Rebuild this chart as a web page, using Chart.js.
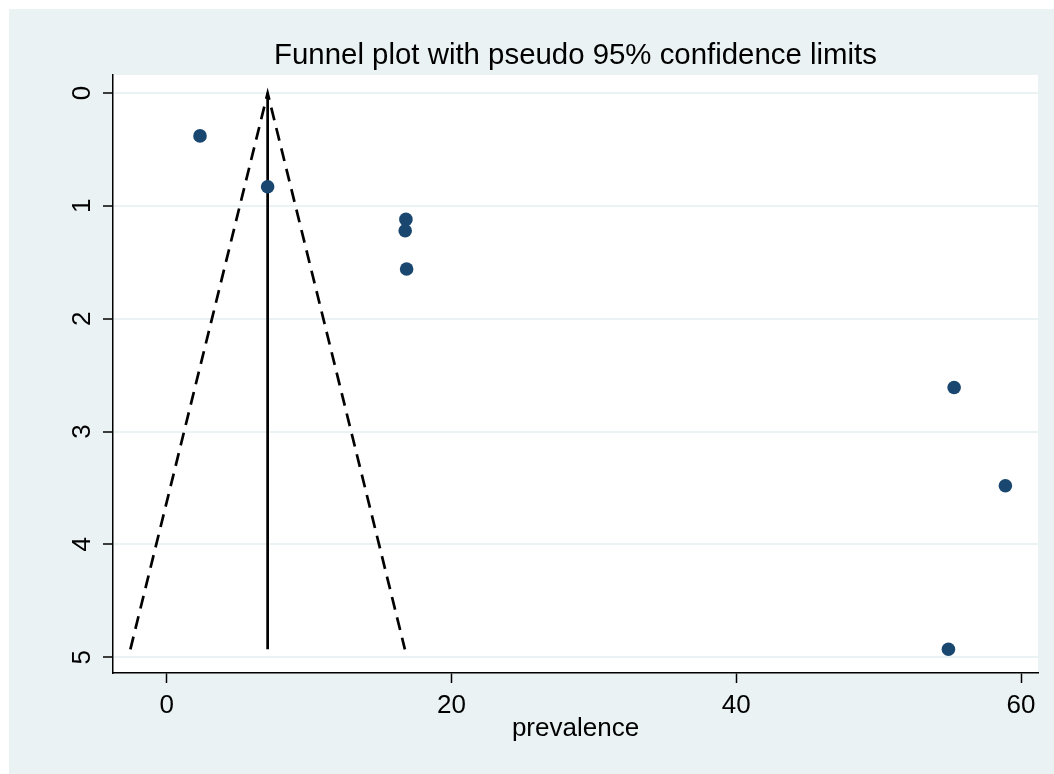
<!DOCTYPE html>
<html>
<head>
<meta charset="utf-8">
<script src="https://cdn.jsdelivr.net/npm/chart.js@4/dist/chart.umd.min.js"></script>
<style>
  html, body { margin: 0; padding: 0; background: #eaf2f3; overflow: hidden; }
  #c { display: block; position: absolute; left: 0; top: 0; }
</style>
</head>
<body>
<canvas id="c" width="1054" height="774"></canvas>
<script>
// ---- data ----
const prevalence = [2.34, 7.09, 16.8, 16.75, 16.85, 55.3, 58.9, 54.9];   // effect estimate (x)
const stdError   = [0.38, 0.83, 1.12, 1.22, 1.56, 2.61, 3.48, 4.93];     // standard error (y, reversed)
const pooledEstimate = [7.09, 7.09];
const pooledSE       = [0, 4.93];
const funnelX = [-2.55, 7.09, 16.73];
const funnelY = [4.93, 0, 4.93];
const xTicks = [0, 20, 40, 60];
const yTicks = [0, 1, 2, 3, 4, 5];
const titleText = 'Funnel plot with pseudo 95% confidence limits';
const xTitle = 'prevalence';

const FONT = "'Liberation Sans', Arial, Helvetica, sans-serif";
const BG = '#eaf2f3';

const toPts = (xs, ys) => xs.map((x, i) => ({ x: x, y: ys[i] }));

const bgPlugin = {
  id: 'bg',
  beforeDraw(chart) {
    const { ctx, chartArea: a } = chart;
    ctx.save();
    ctx.fillStyle = BG;
    ctx.fillRect(0, 0, chart.width, chart.height);
    ctx.fillStyle = '#ffffff';
    ctx.fillRect(0, 0, chart.width, 9);
    ctx.fillRect(0, 0, 9, chart.height);
    ctx.fillRect(a.left, a.top, a.right - a.left, a.bottom - a.top);
    ctx.restore();
  }
};

const yLabelPlugin = {
  id: 'ylabels',
  afterDraw(chart) {
    const { ctx } = chart;
    const ys = chart.scales.y;
    ctx.save();
    ctx.fillStyle = '#000';
    ctx.font = '26px ' + FONT;
    ctx.textAlign = 'center';
    ctx.textBaseline = 'middle';
    yTicks.forEach(v => {
      const py = ys.getPixelForValue(v);
      ctx.save();
      ctx.translate(ys.left + 82.7, py);
      ctx.rotate(-Math.PI / 2);
      ctx.fillText(String(v), 0, 0);
      ctx.restore();
    });
    ctx.restore();
  }
};

new Chart(document.getElementById('c'), {
  type: 'scatter',
  data: {
    datasets: [
      {
        label: 'studies',
        data: toPts(prevalence, stdError),
        pointRadius: 6.8,
        pointHoverRadius: 6.8,
        backgroundColor: '#1a476f',
        borderWidth: 0
      },
      {
        type: 'line',
        label: 'pooled',
        data: toPts(pooledEstimate, pooledSE),
        borderColor: '#000',
        borderWidth: 2.7,
        pointRadius: 0,
        fill: false,
        tension: 0
      },
      {
        type: 'line',
        label: 'limits',
        data: toPts(funnelX, funnelY),
        borderColor: '#000',
        borderWidth: 2.7,
        borderDash: [13, 8],
        pointRadius: 0,
        fill: false,
        tension: 0
      }
    ]
  },
  options: {
    responsive: false,
    animation: false,
    devicePixelRatio: 1,
    layout: { padding: { left: 0, right: 16, top: 0, bottom: 0 } },
    plugins: {
      legend: { display: false },
      tooltip: { enabled: false },
      title: {
        display: true,
        text: titleText,
        fullSize: false,
        color: '#000',
        font: { family: FONT, size: 29.4, weight: 'normal', lineHeight: 1.2 },
        padding: { top: 38, bottom: 1.7 }
      }
    },
    scales: {
      x: {
        type: 'linear',
        min: -3.77,
        max: 61.19,
        afterBuildTicks(scale) { scale.ticks = xTicks.map(v => ({ value: v })); },
        afterFit(scale) { scale.height = 101; },
        grid: {
          drawOnChartArea: false,
          drawTicks: true,
          tickLength: 10,
          tickColor: '#000',
          tickWidth: 1.5
        },
        border: { display: true, color: '#000', width: 1.5 },
        ticks: {
          color: '#000',
          padding: 7,
          maxRotation: 0,
          autoSkip: false,
          font: { family: FONT, size: 26 }
        },
        title: {
          display: true,
          text: xTitle,
          color: '#000',
          font: { family: FONT, size: 26, lineHeight: 1.2 },
          padding: { top: 0, bottom: 29.1 }
        }
      },
      y: {
        type: 'linear',
        reverse: true,
        min: -0.16,
        max: 5.14,
        afterBuildTicks(scale) { scale.ticks = yTicks.map(v => ({ value: v })); },
        afterFit(scale) { scale.width = 113; },
        grid: {
          color: BG,
          lineWidth: 2,
          drawTicks: true,
          tickLength: 10,
          tickColor: '#000',
          tickWidth: 1.5
        },
        border: { display: true, color: '#000', width: 1.5 },
        ticks: { display: false }
      }
    }
  },
  plugins: [bgPlugin, yLabelPlugin]
});
</script>
</body>
</html>
